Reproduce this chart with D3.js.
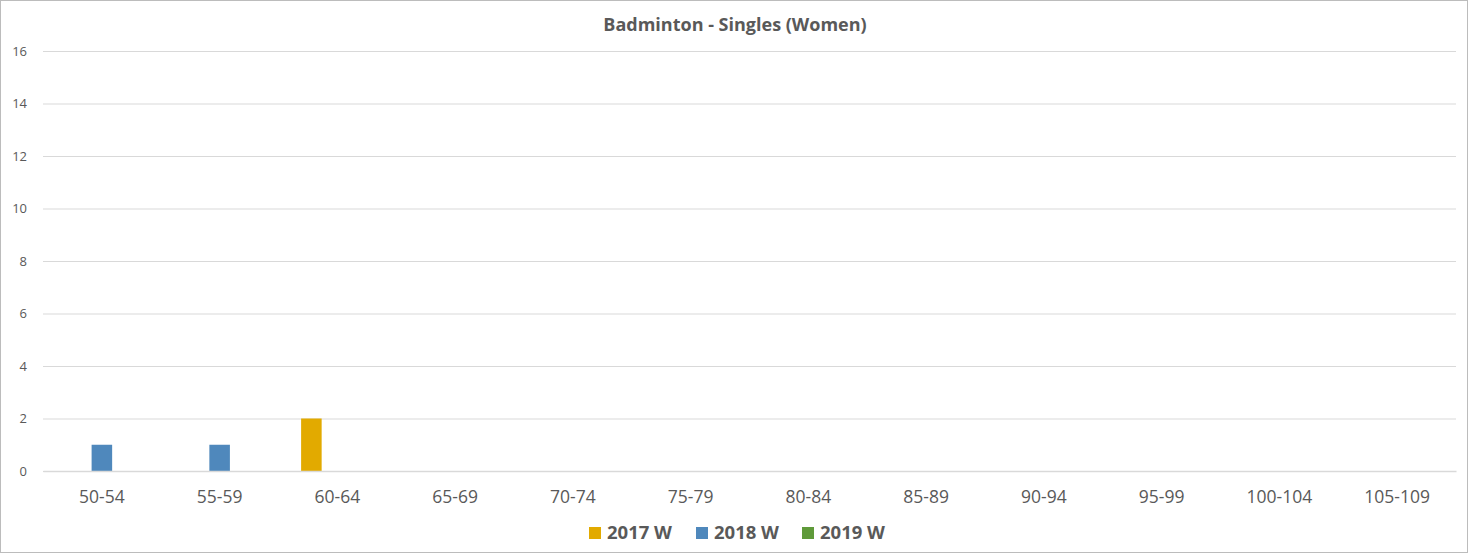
<!DOCTYPE html>
<html>
<head>
<meta charset="utf-8">
<script src="https://cdn.jsdelivr.net/npm/d3@7"></script>
<style>
  html, body { margin: 0; padding: 0; background: #fff; }
  svg { display: block; }
  text { font-family: "Open Sans", "Liberation Sans", sans-serif; fill: #595959; }
</style>
</head>
<body>
<svg id="chart" width="1469" height="554"></svg>
<script>
const categories = ["50-54","55-59","60-64","65-69","70-74","75-79","80-84","85-89","90-94","95-99","100-104","105-109"];
const seriesNames = ["2017 W","2018 W","2019 W"];
const seriesColors = ["#E2AA00","#4F88BC","#5F9A3A"];
const values2017 = [0,0,2,0,0,0,0,0,0,0,0,0];
const values2018 = [1,1,0,0,0,0,0,0,0,0,0,0];
const values2019 = [0,0,0,0,0,0,0,0,0,0,0,0];
const yTicks = [0,2,4,6,8,10,12,14,16];
const title = "Badminton - Singles (Women)";

const seriesValues = [values2017, values2018, values2019];
const W = 1469, H = 554;
const m = {left: 43, right: 13, top: 51, bottom: 83};
const svg = d3.select("#chart");

svg.append("rect").attr("x",0.5).attr("y",0.5).attr("width",W-2).attr("height",H-2)
  .attr("fill","#fff").attr("stroke","#bcbcbc");

const x0 = d3.scaleBand().domain(categories).range([m.left, W-m.right])
  .paddingInner(0.384).paddingOuter(0.192);
const x1 = d3.scaleBand().domain(seriesNames).range([0, x0.bandwidth()]).paddingInner(0.21);
const y = d3.scaleLinear().domain([0,16]).range([H-m.bottom, m.top]);

// gridlines
const yAxis = d3.axisLeft(y).tickValues(yTicks).tickSize(-(W-m.left-m.right)).tickPadding(16);
const gy = svg.append("g").attr("transform",`translate(${m.left},0)`).call(yAxis);
gy.select(".domain").remove();
gy.selectAll(".tick line").attr("stroke","#d9d9d9").attr("stroke-width",1);
gy.selectAll(".tick text").style("font-size","13px").attr("fill","#595959");

// bars
const groups = svg.append("g").selectAll("g").data(categories).join("g")
  .attr("transform", d => `translate(${x0(d)},0)`);
groups.selectAll("rect").data((d,i) => seriesNames.map((s,j) => ({s, v: seriesValues[j][i], c: seriesColors[j]})))
  .join("rect")
  .attr("x", d => x1(d.s))
  .attr("width", x1.bandwidth())
  .attr("y", d => y(d.v))
  .attr("height", d => y(0) - y(d.v))
  .attr("fill", d => d.c);

// x axis
const xAxis = d3.axisBottom(x0).tickSize(0).tickPadding(20);
const gx = svg.append("g").attr("transform",`translate(0,${y(0)})`).call(xAxis);
gx.select(".domain").attr("stroke","#d9d9d9").attr("stroke-width",1.5);
gx.selectAll(".tick text").style("font-size","17.5px").attr("fill","#595959");

// title
svg.append("text").attr("x", 735).attr("y", 31).attr("text-anchor","middle")
  .style("font-size","18px").style("font-weight","bold").text(title);

// legend
const legendX = [589, 696, 802];
const lg = svg.append("g").selectAll("g").data(seriesNames).join("g")
  .attr("transform", (d,i) => `translate(${legendX[i]},527)`);
lg.append("rect").attr("width",12).attr("height",12).attr("fill",(d,i)=>seriesColors[i]);
lg.append("text").attr("x",18).attr("y",12).style("font-size","18.5px").style("font-weight","bold").text(d=>d);
</script>
</body>
</html>
